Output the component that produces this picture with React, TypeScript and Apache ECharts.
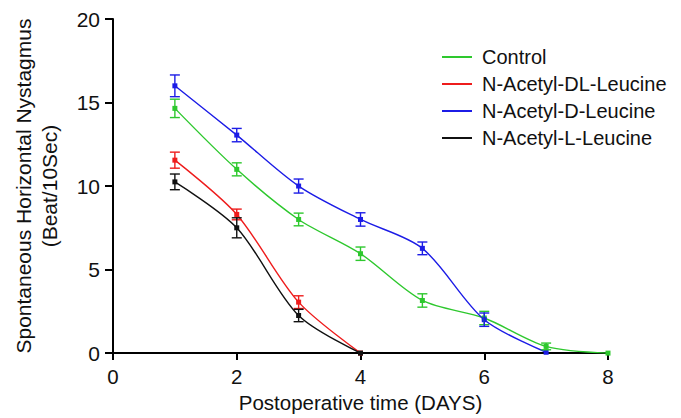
import React, { useEffect, useRef } from "react";
import * as echarts from "echarts";

const days = [1, 2, 3, 4, 5, 6, 7, 8];
const seriesNames = ["Control", "N-Acetyl-DL-Leucine", "N-Acetyl-D-Leucine", "N-Acetyl-L-Leucine"];
const seriesColors = ["#2ec82e", "#ee1c1c", "#1c1ce6", "#111111"];

const controlMean = [14.65, 11.0, 8.0, 5.95, 3.15, 2.1, 0.4, 0.0];
const controlErr = [0.55, 0.39, 0.38, 0.4, 0.4, 0.4, 0.2, 0];
const dlMean = [11.55, 8.3, 3.05, 0.0];
const dlErr = [0.48, 0.32, 0.38, 0];
const dMean = [16.0, 13.05, 10.0, 8.0, 6.27, 2.0, 0.05];
const dErr = [0.65, 0.4, 0.42, 0.4, 0.38, 0.4, 0];
const lMean = [10.25, 7.5, 2.25, 0.0];
const lErr = [0.47, 0.6, 0.37, 0];

const means = [controlMean, dlMean, dMean, lMean];
const errs = [controlErr, dlErr, dErr, lErr];

const FONT = "'Liberation Sans', Arial, Helvetica, sans-serif";

export default function App() {
  const ref = useRef<HTMLDivElement>(null);
  useEffect(() => {
    if (!ref.current) return;
    const chart = echarts.init(ref.current, null, { renderer: "svg" });
    const series: any[] = [];
    seriesNames.forEach((name, i) => {
      const m = means[i];
      series.push({
        name,
        type: "line",
        data: m.map((v, k) => [days[k], v]),
        smooth: 0.3,
        symbol: "rect",
        symbolSize: 5,
        showSymbol: true,
        lineStyle: { color: seriesColors[i], width: 1.4 },
        itemStyle: { color: seriesColors[i] },
        z: 3,
      });
      series.push({
        name,
        type: "custom",
        data: m.map((v, k) => [days[k], v - errs[i][k], v + errs[i][k]]),
        encode: { x: 0, y: [1, 2] },
        renderItem: (params: any, api: any) => {
          const x = api.value(0);
          const lo = api.coord([x, api.value(1)]);
          const hi = api.coord([x, api.value(2)]);
          if (Math.abs(lo[1] - hi[1]) < 1) return null;
          const hw = 5;
          const style = { stroke: seriesColors[i], lineWidth: 1.4 };
          return {
            type: "group",
            children: [
              { type: "line", shape: { x1: lo[0], y1: lo[1], x2: hi[0], y2: hi[1] }, style },
              { type: "line", shape: { x1: lo[0] - hw, y1: lo[1], x2: lo[0] + hw, y2: lo[1] }, style },
              { type: "line", shape: { x1: hi[0] - hw, y1: hi[1], x2: hi[0] + hw, y2: hi[1] }, style },
            ],
          };
        },
        z: 4,
      });
    });

    chart.setOption({
      animation: false,
      backgroundColor: "#ffffff",
      textStyle: { fontFamily: FONT },
      grid: { left: 113, right: 73, top: 19, bottom: 63, containLabel: false },
      legend: {
        data: seriesNames,
        orient: "vertical",
        left: 442,
        top: 47,
        padding: 0,
        icon: "rect",
        itemWidth: 30,
        itemHeight: 2,
        itemGap: 7,
        textStyle: { fontFamily: FONT, fontSize: 20, color: "#111", lineHeight: 20, padding: [0, 0, 0, 5] },
      },
      xAxis: {
        type: "value",
        min: 0,
        max: 8,
        interval: 2,
        name: "Postoperative time (DAYS)",
        nameLocation: "middle",
        nameGap: 35,
        nameTextStyle: { fontFamily: FONT, fontSize: 20.5, color: "#111" },
        axisLine: { show: true, onZero: false, lineStyle: { color: "#000", width: 2 } },
        axisTick: { show: true, length: 7, lineStyle: { color: "#000", width: 2 } },
        axisLabel: { fontFamily: FONT, fontSize: 20.5, color: "#111", margin: 13 },
        splitLine: { show: false },
      },
      yAxis: {
        type: "value",
        min: 0,
        max: 20,
        interval: 5,
        name: "Spontaneous Horizontal Nystagmus\n(Beat/10Sec)",
        nameLocation: "middle",
        nameGap: 51,
        nameRotate: 90,
        nameTextStyle: { fontFamily: FONT, fontSize: 21, color: "#111", lineHeight: 26, align: "center" },
        axisLine: { show: true, lineStyle: { color: "#000", width: 2 } },
        axisTick: { show: true, length: 8, lineStyle: { color: "#000", width: 2 } },
        axisLabel: { fontFamily: FONT, fontSize: 21, color: "#111", margin: 13 },
        splitLine: { show: false },
      },
      series,
    });
    return () => chart.dispose();
  }, []);
  return <div ref={ref} style={{ width: 681, height: 418, position: "absolute", left: 0, top: 0 }} />;
}
